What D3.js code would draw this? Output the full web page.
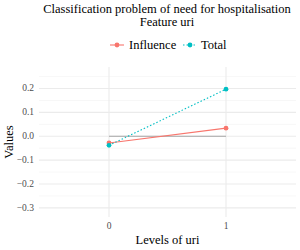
<!DOCTYPE html>
<html lang="en">
<head>
  <meta charset="UTF-8">
  <title>Feature uri</title>
  <script src="https://d3js.org/d3.v7.min.js"></script>
  <style>
    body { margin: 0; background: #fff; }
    text { font-family: "Liberation Serif", "DejaVu Serif", serif; }
  </style>
</head>
<body>
  <div id="chart"></div>
  <script>
    const levels = ["0", "1"];
    const influence = [-0.028, 0.034];
    const total = [-0.038, 0.197];
    const yTicks = [-0.3, -0.2, -0.1, 0.0, 0.1, 0.2];
    const yMinor = [-0.25, -0.15, -0.05, 0.05, 0.15, 0.25];

    const width = 300, height = 250;
    const panel = { left: 39, right: 296, top: 67, bottom: 217 };

    const svg = d3.select("#chart").append("svg")
      .attr("width", width)
      .attr("height", height);

    const x = d3.scalePoint()
      .domain(levels)
      .range([109, 226]);

    const y = d3.scaleLinear()
      .domain([-0.338, 0.29])
      .range([panel.bottom, panel.top]);

    // grid
    svg.selectAll(".minor")
      .data(yMinor)
      .enter().append("line")
      .attr("x1", panel.left).attr("x2", panel.right)
      .attr("y1", d => y(d)).attr("y2", d => y(d))
      .attr("stroke", "#f2f2f2").attr("stroke-width", 0.6);

    svg.selectAll(".major")
      .data(yTicks)
      .enter().append("line")
      .attr("x1", panel.left).attr("x2", panel.right)
      .attr("y1", d => y(d)).attr("y2", d => y(d))
      .attr("stroke", "#ebebeb").attr("stroke-width", 1.1);

    svg.selectAll(".vmajor")
      .data(levels)
      .enter().append("line")
      .attr("x1", d => x(d)).attr("x2", d => x(d))
      .attr("y1", panel.top).attr("y2", panel.bottom)
      .attr("stroke", "#ebebeb").attr("stroke-width", 1.1);

    // reference line at zero
    svg.append("line")
      .attr("x1", x(levels[0])).attr("x2", x(levels[1]))
      .attr("y1", y(0)).attr("y2", y(0))
      .attr("stroke", "#a6a6a6").attr("stroke-width", 1.1);

    const line = d3.line()
      .x((d, i) => x(levels[i]))
      .y(d => y(d));

    const series = [
      { name: "Influence", values: influence, color: "#F8766D", dash: null },
      { name: "Total", values: total, color: "#00BFC4", dash: "1.5,2" }
    ];

    series.forEach(s => {
      svg.append("path")
        .datum(s.values)
        .attr("d", line)
        .attr("fill", "none")
        .attr("stroke", s.color)
        .attr("stroke-width", 1.1)
        .attr("stroke-dasharray", s.dash);

      svg.selectAll(null)
        .data(s.values)
        .enter().append("circle")
        .attr("cx", (d, i) => x(levels[i]))
        .attr("cy", d => y(d))
        .attr("r", 2.4)
        .attr("fill", s.color);
    });

    // axis labels
    svg.selectAll(".ytick")
      .data(yTicks)
      .enter().append("text")
      .attr("x", 34)
      .attr("y", d => y(d) + 3)
      .attr("text-anchor", "end")
      .attr("font-size", 9.5)
      .attr("fill", "#4d4d4d")
      .text(d => d3.format(".1f")(d));

    svg.selectAll(".xtick")
      .data(levels)
      .enter().append("text")
      .attr("x", d => x(d))
      .attr("y", 229)
      .attr("text-anchor", "middle")
      .attr("font-size", 9.5)
      .attr("fill", "#4d4d4d")
      .text(d => d);

    svg.append("text")
      .attr("x", (panel.left + panel.right) / 2)
      .attr("y", 244)
      .attr("text-anchor", "middle")
      .attr("font-size", 12.5)
      .text("Levels of uri");

    svg.append("text")
      .attr("transform", `translate(13,${(panel.top + panel.bottom) / 2}) rotate(-90)`)
      .attr("text-anchor", "middle")
      .attr("font-size", 12.5)
      .text("Values");

    // title
    svg.append("text")
      .attr("x", 167)
      .attr("y", 13)
      .attr("text-anchor", "middle")
      .attr("font-size", 12.5)
      .text("Classification problem of need for hospitalisation");

    svg.append("text")
      .attr("x", 167)
      .attr("y", 26)
      .attr("text-anchor", "middle")
      .attr("font-size", 12.5)
      .text("Feature uri");

    // legend
    const legend = svg.append("g").attr("transform", "translate(110,45)");
    const items = [{ s: series[0], x: 0, tx: 19 }, { s: series[1], x: 73, tx: 91 }];
    items.forEach(it => {
      legend.append("line")
        .attr("x1", it.x).attr("x2", it.x + 14)
        .attr("y1", 0).attr("y2", 0)
        .attr("stroke", it.s.color).attr("stroke-width", 1.1)
        .attr("stroke-dasharray", it.s.dash);
      legend.append("circle")
        .attr("cx", it.x + 7).attr("cy", 0).attr("r", 2.4)
        .attr("fill", it.s.color);
      legend.append("text")
        .attr("x", it.tx).attr("y", 4)
        .attr("font-size", 12.5)
        .text(it.s.name);
    });
  </script>
</body>
</html>
